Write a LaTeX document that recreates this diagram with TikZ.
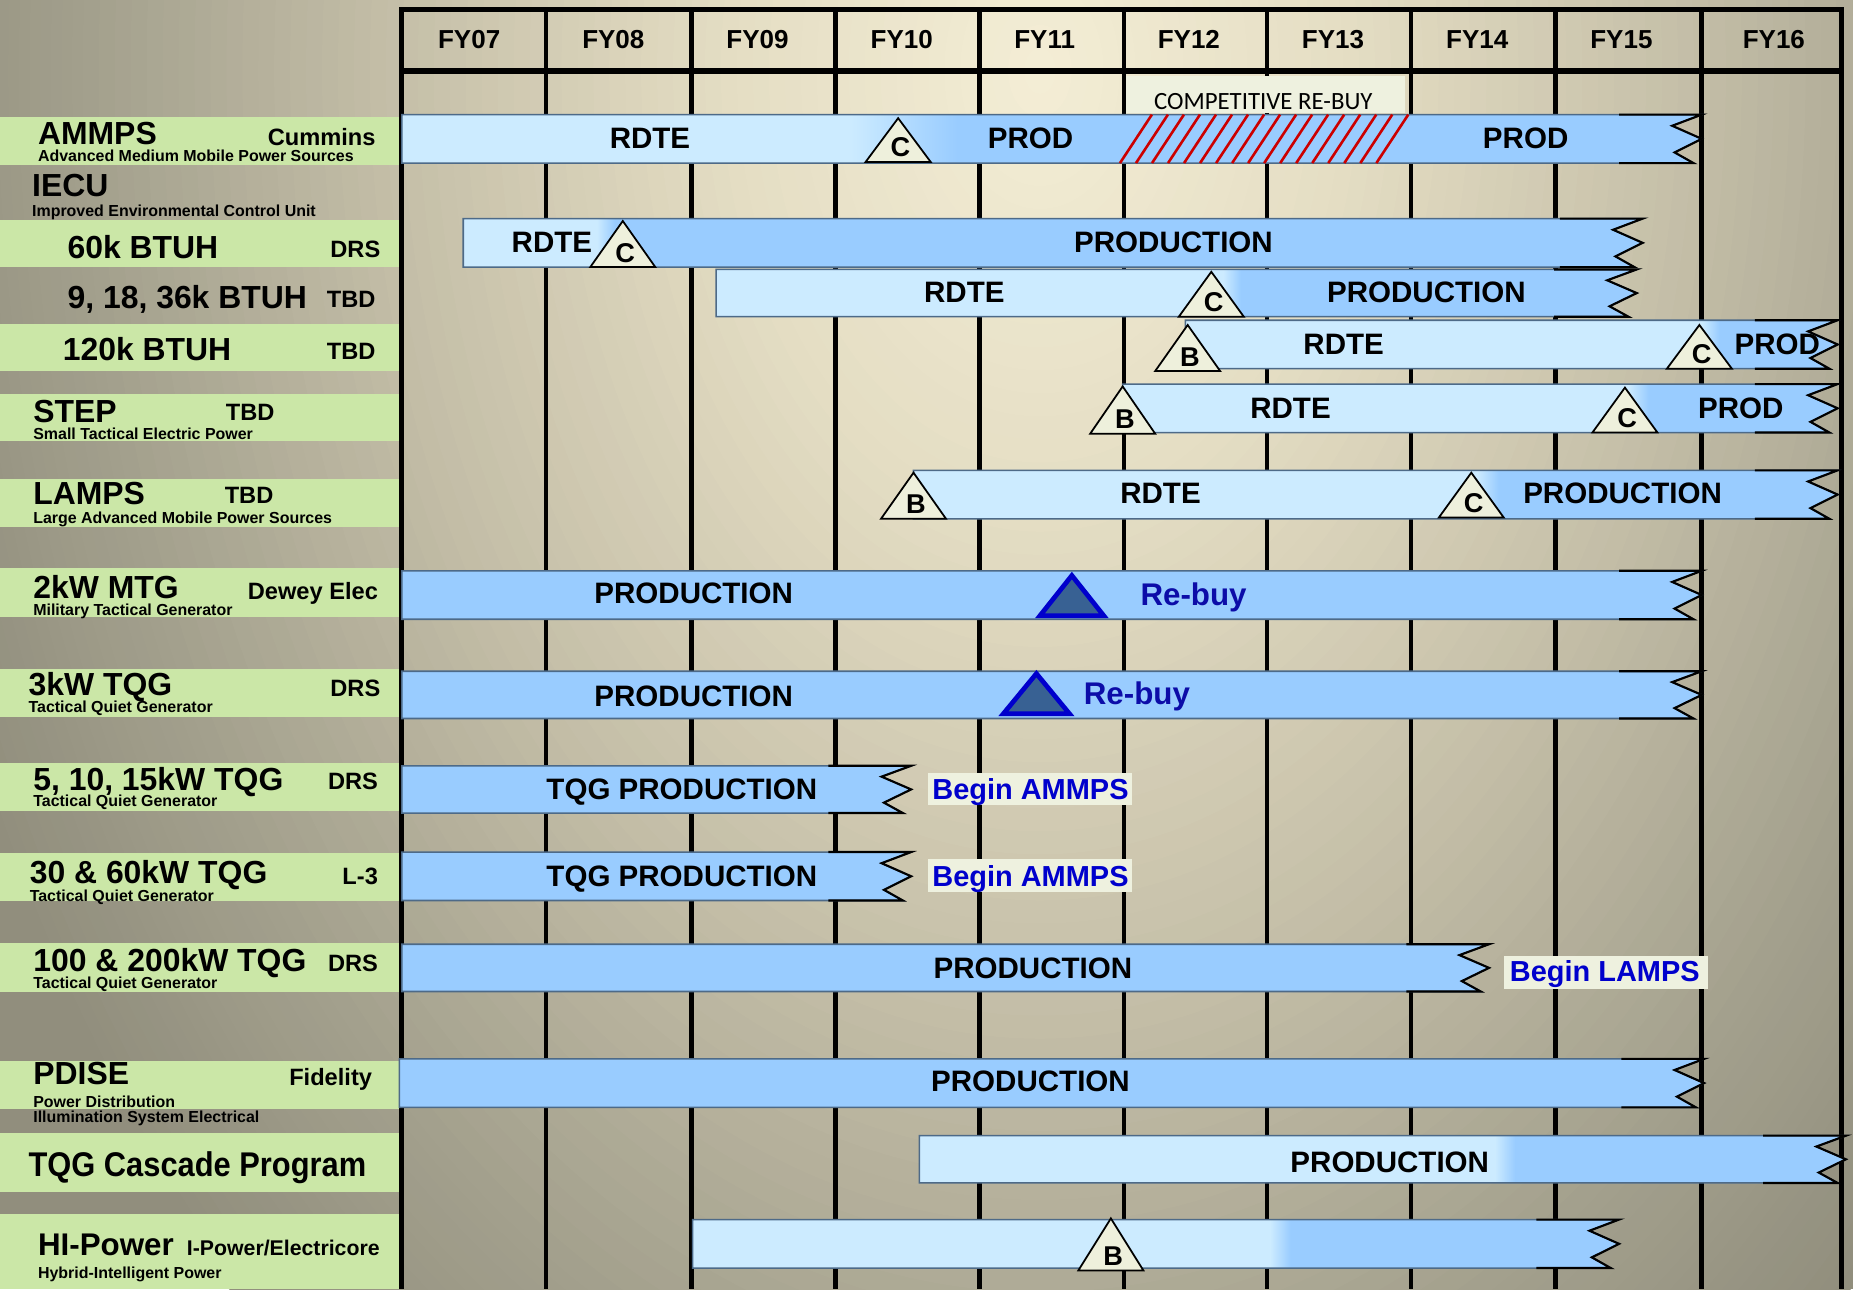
\documentclass[tikz,border=0pt]{standalone}
\usepackage{fontspec}
\setmainfont{Liberation Sans}
\newfontfamily\carlitofont{Carlito}
\definecolor{blight}{HTML}{CCEBFF}
\definecolor{bdark}{HTML}{99CCFF}
\definecolor{bandgreen}{HTML}{CBE7A7}
\definecolor{trifill}{HTML}{EEF0DC}
\definecolor{boxfill}{HTML}{EEF1DF}
\definecolor{rebuyfill}{HTML}{386193}
\definecolor{rebuyline}{HTML}{0000CC}
\definecolor{rebuytxt}{HTML}{0C0CA8}
\definecolor{begintxt}{HTML}{0000CC}
\definecolor{hatchred}{HTML}{CC0000}
\definecolor{barline}{HTML}{4D6A88}
\definecolor{bgA}{HTML}{F4EED6}
\definecolor{bgB}{HTML}{E4DDC3}
\definecolor{bgC}{HTML}{C6C0A9}
\definecolor{bgD}{HTML}{A3A08D}
\definecolor{bgE}{HTML}{918E7D}
\newcommand\barshape[4]{(#1,#3) -- (#2,#3) -- ({#2-25},{#3+0.23*(#4-#3)}) -- (#2,{0.5*(#3+#4)}) -- ({#2-23},{#3+0.78*(#4-#3)}) -- ({#2-7},#4) -- (#1,#4) -- cycle}
\newcommand\gbar[6]{%
  \begin{scope}
    \clip \barshape{#1}{#2}{#3}{#4};
    \fill[bdark] ({#1-2},{#3-2}) rectangle ({#2+3},{#4+2});
    \fill[blight] ({#1-2},{#3-2}) rectangle (#5,{#4+2});
    \shade[left color=blight,right color=bdark] (#5,{#3-2}) rectangle (#6,{#4+2});
  \end{scope}
  \draw[barout] \barshape{#1}{#2}{#3}{#4};
  \draw[zigline] ({#2-70},#3) -- (#2,#3) -- ({#2-25},{#3+0.23*(#4-#3)}) -- (#2,{0.5*(#3+#4)}) -- ({#2-23},{#3+0.78*(#4-#3)}) -- ({#2-7},#4) -- ({#2-70},#4);
}
\newcommand\mytri[4]{%
  \draw[mtri] (#1,#2) -- ({#1-27.5},#3) -- ({#1+27.5},#3) -- cycle;
  \node[trilbl] at ({#1+2},{#3-12.5}) {#4};
}
\begin{document}
\begin{tikzpicture}[x=1pt,y=-1pt,
  gridline/.style={line width=4pt, black},
  barout/.style={draw=barline, line width=1.3pt},
  zigline/.style={black, line width=1.8pt, line join=miter},
  mtri/.style={draw=black, fill=trifill, line width=1.5pt, line join=miter},
  trilbl/.style={font=\fontsize{23}{23}\selectfont\bfseries, inner sep=0pt, text height=16.5pt, text depth=0pt},
  rebuy/.style={draw=rebuyline, fill=rebuyfill, line width=4pt, line join=miter},
  hatch/.style={hatchred, line width=2.2pt},
  fy/.style={font=\fontsize{22}{22}\selectfont\bfseries, inner sep=0pt, text height=15.8pt, text depth=0pt},
  btxt/.style={font=\fontsize{25}{25}\selectfont\bfseries, inner sep=0pt, text height=17.9pt, text depth=0pt},
  lbig/.style={font=\fontsize{27}{27}\selectfont\bfseries, inner sep=0pt, text height=19.3pt, text depth=0pt},
  lmed/.style={font=\fontsize{20}{20}\selectfont\bfseries, inner sep=0pt, text height=14.3pt, text depth=0pt},
  lsm/.style={font=\fontsize{13.5}{13.5}\selectfont\bfseries, inner sep=0pt, text height=9.7pt, text depth=0pt},
  rtxt/.style={font=\fontsize{26.5}{26.5}\selectfont\bfseries, text=rebuytxt, inner sep=0pt, text height=19pt, text depth=0pt},
  begtxt/.style={font=\fontsize{24.5}{24.5}\selectfont\bfseries, text=begintxt, inner sep=0pt, text height=17.5pt, text depth=0pt},
  comptxt/.style={font=\carlitofont\fontsize{21}{21}\selectfont, inner sep=0pt, text height=13.5pt, text depth=0pt}
]
\useasboundingbox (0,0) rectangle (1568,1091);
\clip (0,0) rectangle (1568,1091);
% background: stepped elliptical gradient
\fill[bgE] (0,0) rectangle (1568,1091);
\foreach \j in {0,...,19}{
  \pgfmathsetmacro\s{1.1-\j*0.01}
  \pgfmathtruncatemacro\p{\j*5}
  \fill[bgD!\p!bgE] (880,60) ellipse [x radius=900*\s, y radius=1300*\s];
}
\foreach \j in {0,...,19}{
  \pgfmathsetmacro\s{0.9-\j*0.015}
  \pgfmathtruncatemacro\p{\j*5}
  \fill[bgC!\p!bgD] (880,60) ellipse [x radius=900*\s, y radius=1300*\s];
}
\foreach \j in {0,...,19}{
  \pgfmathsetmacro\s{0.6-\j*0.015}
  \pgfmathtruncatemacro\p{\j*5}
  \fill[bgB!\p!bgC] (880,60) ellipse [x radius=900*\s, y radius=1300*\s];
}
\foreach \j in {0,...,19}{
  \pgfmathsetmacro\s{0.3-\j*0.015}
  \pgfmathtruncatemacro\p{\j*5}
  \fill[bgA!\p!bgB] (880,60) ellipse [x radius=900*\s, y radius=1300*\s];
}
% green label bands
\foreach \ya/\yb in {99/140, 186/226, 274/314, 333/373, 405/446, 481/522, 566/607, 646/686, 722/762, 798/839, 898/938}
  \fill[bandgreen] (0,\ya) rectangle (338,\yb);
\fill[bandgreen] (0,959) rectangle (340,1009);
\fill[bandgreen] (0,1027) rectangle (341,1091);
% grid
\foreach \x in {462,585,707,829,951,1072,1194,1316,1440}
  \draw[gridline] (\x,8) -- (\x,1091);
\draw[gridline] (340,6) -- (340,1091);
\draw[gridline] (1558,6) -- (1558,1091);
\draw[gridline] (338,8) -- (1560,8);
\draw[gridline, line width=4.5pt] (338,60) -- (1560,60);
% header labels
\node[fy] (fy07) at (397,33) {FY07};
\node[fy] (fy08) at (519,33) {FY08};
\node[fy] (fy09) at (641,33) {FY09};
\node[fy] (fy10) at (763,33) {FY10};
\node[fy] (fy11) at (884,33) {FY11};
\node[fy] (fy12) at (1006,33) {FY12};
\node[fy] (fy13) at (1128,33) {FY13};
\node[fy] (fy14) at (1250,33) {FY14};
\node[fy] (fy15) at (1372,33) {FY15};
\node[fy] (fy16) at (1501,33) {FY16};
% competitive re-buy box
\fill[boxfill] (953,64) rectangle (1189,96);
\node[comptxt] (comp) at (1069,85.5) {COMPETITIVE RE-BUY};
% left labels
\node[lbig,anchor=west] (l1) at (32,113) {AMMPS};
\node[lmed,anchor=east] (l1v) at (318,116) {Cummins};
\node[lsm,anchor=west] (l1s) at (32,132) {Advanced Medium Mobile Power Sources};
\node[lbig,anchor=west] (l2) at (27,157) {IECU};
\node[lsm,anchor=west] (l2s) at (27,178) {Improved Environmental Control Unit};
\node[lbig,anchor=west] (l3) at (57,209) {60k BTUH};
\node[lmed,anchor=east] (l3v) at (322,211) {DRS};
\node[lbig,anchor=west] (l4) at (57,251) {9, 18, 36k BTUH};
\node[lmed,anchor=east] (l4v) at (318,253) {TBD};
\node[lbig,anchor=west] (l5) at (53,295) {120k BTUH};
\node[lmed,anchor=east] (l5v) at (318,297) {TBD};
\node[lbig,anchor=west] (l6) at (28,348) {STEP};
\node[lmed,anchor=west] (l6v) at (191,349) {TBD};
\node[lsm,anchor=west] (l6s) at (28,367) {Small Tactical Electric Power};
\node[lbig,anchor=west] (l7) at (28,417) {LAMPS};
\node[lmed,anchor=west] (l7v) at (190,419) {TBD};
\node[lsm,anchor=west] (l7s) at (28,438) {Large Advanced Mobile Power Sources};
\node[lbig,anchor=west] (l8) at (28,497) {2kW MTG};
\node[lmed,anchor=east] (l8v) at (320,500) {Dewey Elec};
\node[lsm,anchor=west] (l8s) at (28,516) {Military Tactical Generator};
\node[lbig,anchor=west] (l9) at (24,579) {3kW TQG};
\node[lmed,anchor=east] (l9v) at (322,582) {DRS};
\node[lsm,anchor=west] (l9s) at (24,598) {Tactical Quiet Generator};
\node[lbig,anchor=west] (l10) at (28,659) {5, 10, 15kW TQG};
\node[lmed,anchor=east] (l10v) at (320,661) {DRS};
\node[lsm,anchor=west] (l10s) at (28,678) {Tactical Quiet Generator};
\node[lbig,anchor=west] (l11) at (25,738) {30 \& 60kW TQG};
\node[lmed,anchor=east] (l11v) at (320,741) {L-3};
\node[lsm,anchor=west] (l11s) at (25,758) {Tactical Quiet Generator};
\node[lbig,anchor=west] (l12) at (28,812) {100 \& 200kW TQG};
\node[lmed,anchor=east] (l12v) at (320,815) {DRS};
\node[lsm,anchor=west] (l12s) at (28,832) {Tactical Quiet Generator};
\node[lbig,anchor=west] (l13) at (28,908) {PDISE};
\node[lmed,anchor=east] (l13v) at (315,911) {Fidelity};
\node[lsm,anchor=west] (l13s) at (28,932) {Power Distribution};
\node[lsm,anchor=west] (l13t) at (28,945) {Illumination System Electrical};
\node[lbig,anchor=west,font=\fontsize{29}{29}\selectfont\bfseries,text height=20.8pt,xscale=0.9] (l14) at (24,985) {TQG Cascade Program};
\node[lbig,anchor=west,font=\fontsize{26.5}{26.5}\selectfont\bfseries,text height=19pt] (l15) at (32,1053) {HI-Power};
\node[lmed,anchor=west,font=\fontsize{18}{18}\selectfont\bfseries,text height=12.9pt] (l15v) at (158,1056) {I-Power/Electricore};
\node[lsm,anchor=west] (l15s) at (32,1077) {Hybrid-Intelligent Power};
% bars
\gbar{340}{1440}{97}{138}{720}{810}
\foreach \i in {0,...,16}
  \draw[hatch] ({947.7+13.56*\i},138) -- ({974.7+13.56*\i},97);
\mytri{760}{100}{137}{C}
\node[btxt] (r1a) at (550,117) {RDTE};
\node[btxt] (r1b) at (872,117) {PROD};
\node[btxt] (r1c) at (1291,117) {PROD};

\gbar{392}{1390}{185}{226}{505}{520}
\mytri{527}{187}{226}{C}
\node[btxt] (r3a) at (467,205) {RDTE};
\node[btxt] (r3b) at (993,205) {PRODUCTION};

\gbar{606}{1385}{228}{268}{1035}{1050}
\mytri{1025}{230}{268}{C}
\node[btxt] (r4a) at (816,247) {RDTE};
\node[btxt] (r4b) at (1207,247) {PRODUCTION};

\gbar{1003}{1555}{271}{312}{1440}{1455}
\mytri{1005}{275}{314}{B}
\mytri{1438}{275}{312}{C}
\node[btxt] (r5a) at (1137,291) {RDTE};
\node[btxt] (r5b) at (1504,291) {PROD};

\gbar{950}{1555}{325}{366}{1378}{1395}
\mytri{950}{327}{367}{B}
\mytri{1375}{328}{366}{C}
\node[btxt] (r6a) at (1092,345) {RDTE};
\node[btxt] (r6b) at (1473,345) {PROD};

\gbar{773}{1555}{398}{439}{1250}{1268}
\mytri{773}{400}{439}{B}
\mytri{1245}{400}{438}{C}
\node[btxt] (r7a) at (982,417) {RDTE};
\node[btxt] (r7b) at (1373,417) {PRODUCTION};

\gbar{340}{1440}{483}{524}{320}{330}
\draw[rebuy] (907,487) -- (880,521) -- (934,521) -- cycle;
\node[btxt] (r8a) at (587,502) {PRODUCTION};
\node[rtxt] (r8b) at (1010,503) {Re-buy};

\gbar{340}{1440}{568}{608}{320}{330}
\draw[rebuy] (877,570) -- (849,604) -- (905,604) -- cycle;
\node[btxt] (r9a) at (587,589) {PRODUCTION};
\node[rtxt] (r9b) at (962,587) {Re-buy};

\gbar{340}{771}{648}{688}{320}{330}
\node[btxt] (r10a) at (577,668) {TQG PRODUCTION};
\fill[boxfill] (785,654) rectangle (958,681);
\node[begtxt] (r10b) at (872,668) {Begin AMMPS};

\gbar{340}{771}{721}{762}{320}{330}
\node[btxt] (r11a) at (577,741) {TQG PRODUCTION};
\fill[boxfill] (785,727) rectangle (958,755);
\node[begtxt] (r11b) at (872,741) {Begin AMMPS};

\gbar{340}{1260}{799}{839}{320}{330}
\node[btxt] (r12a) at (874,819) {PRODUCTION};
\fill[boxfill] (1273,809) rectangle (1445,837);
\node[begtxt] (r12b) at (1358,822) {Begin LAMPS};

\gbar{338}{1442}{896}{937}{318}{328}
\node[btxt] (r13a) at (872,915) {PRODUCTION};

\gbar{778}{1562}{961}{1001}{1265}{1282}
\node[btxt] (r14a) at (1176,983) {PRODUCTION};

\gbar{586}{1370}{1032}{1073}{1075}{1092}
\mytri{940}{1031}{1075}{B}
\end{tikzpicture}
\end{document}
